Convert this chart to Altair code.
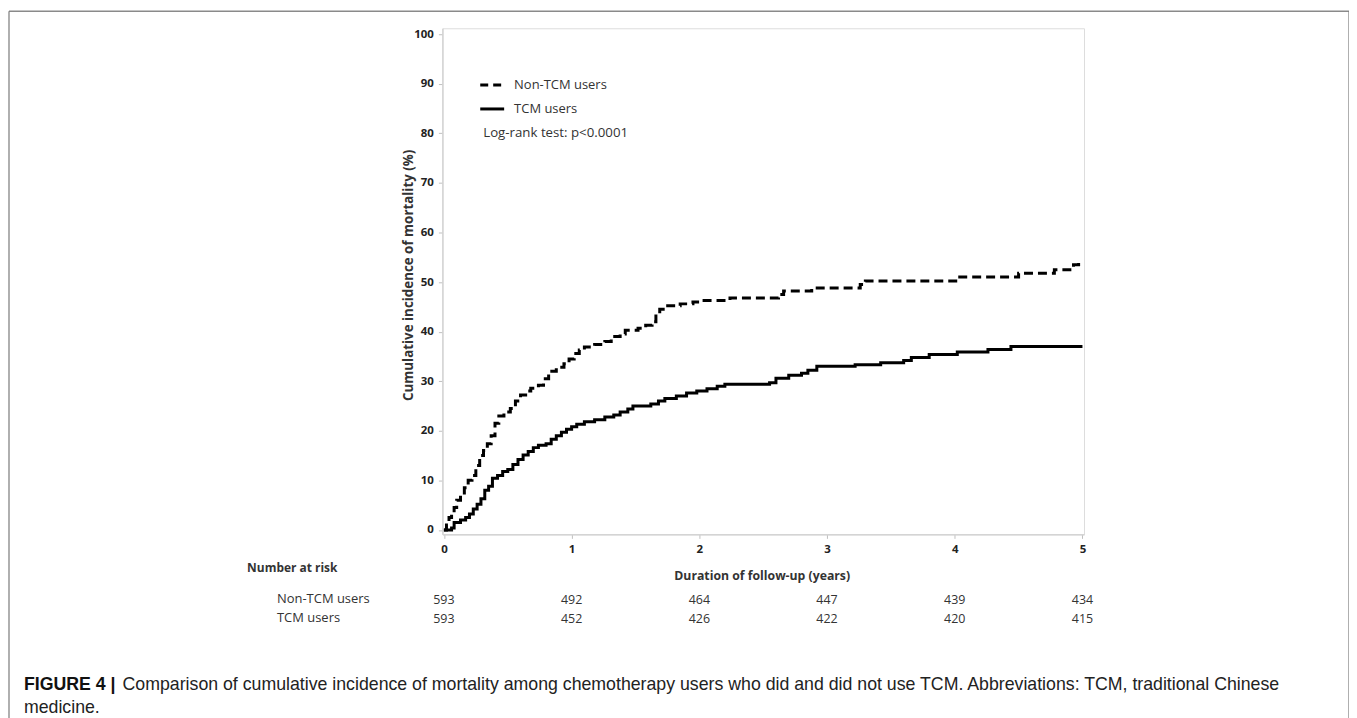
import altair as alt
import pandas as pd

# --- data ---
non_tcm_t = [0, 0.02, 0.04, 0.06, 0.08, 0.10, 0.13, 0.16, 0.19, 0.22, 0.25, 0.28, 0.31, 0.34, 0.37,
             0.40, 0.43, 0.47, 0.52, 0.56, 0.60, 0.64, 0.68, 0.74, 0.78, 0.82, 0.88, 0.94, 0.98,
             1.02, 1.06, 1.10, 1.18, 1.26, 1.31, 1.38, 1.42, 1.52, 1.58, 1.63, 1.66, 1.69, 1.74,
             1.85, 1.95, 2.02, 2.24, 2.62, 2.66, 2.88, 3.26, 3.30, 4.02, 4.50, 4.78, 4.93, 4.97]
non_tcm_v = [0, 1.0, 2.5, 3.5, 4.5, 6.0, 7.0, 8.5, 10.0, 11.0, 13.0, 15.0, 16.0, 17.4, 19.0,
             21.5, 23.0, 23.8, 24.5, 26.0, 27.2, 28.0, 28.6, 29.2, 30.5, 32.0, 32.8, 33.5, 34.5,
             35.6, 36.3, 36.9, 37.4, 38.0, 39.0, 39.5, 40.3, 40.7, 41.3, 42.0, 43.5, 44.5, 45.2,
             45.6, 46.0, 46.3, 46.8, 47.5, 48.2, 48.8, 49.5, 50.2, 51.0, 51.8, 52.5, 53.5, 54.3]

tcm_t = [0, 0.06, 0.08, 0.13, 0.17, 0.20, 0.23, 0.26, 0.29, 0.32, 0.35, 0.38, 0.42, 0.46, 0.50,
         0.54, 0.58, 0.62, 0.66, 0.70, 0.74, 0.80, 0.84, 0.88, 0.92, 0.96, 1.00, 1.04, 1.10,
         1.18, 1.26, 1.33, 1.38, 1.44, 1.48, 1.62, 1.68, 1.73, 1.82, 1.90, 1.98, 2.06, 2.14,
         2.20, 2.55, 2.60, 2.70, 2.80, 2.85, 2.92, 3.22, 3.42, 3.60, 3.66, 3.80, 4.02, 4.26,
         4.44, 5.00]
tcm_v = [0, 0.4, 1.5, 2.0, 2.5, 3.2, 4.2, 5.2, 6.3, 8.0, 8.8, 10.4, 11.0, 11.8, 12.2,
         13.2, 14.2, 15.1, 15.8, 16.6, 17.1, 17.4, 18.3, 19.0, 19.7, 20.3, 20.8, 21.3, 21.8,
         22.2, 22.8, 23.2, 23.8, 24.4, 25.0, 25.4, 26.0, 26.5, 27.0, 27.6, 28.0, 28.5, 29.0,
         29.4, 29.7, 30.6, 31.2, 31.6, 32.2, 33.0, 33.3, 33.7, 34.2, 34.8, 35.4, 35.9, 36.4,
         37.0, 37.0]

risk_years = [0, 1, 2, 3, 4, 5]
risk_non_tcm = [593, 492, 464, 447, 439, 434]
risk_tcm = [593, 452, 426, 422, 420, 415]

x_ticks = [0, 1, 2, 3, 4, 5]
y_ticks = [0, 10, 20, 30, 40, 50, 60, 70, 80, 90, 100]

legend_labels = ["Non-TCM users", "TCM users"]
logrank_text = "Log-rank test: p<0.0001"
y_title = "Cumulative incidence of mortality (%)"
x_title = "Duration of follow-up (years)"
caption_bold = "FIGURE 4 |"
caption_line1 = ("Comparison of cumulative incidence of mortality among chemotherapy users who did "
                 "and did not use TCM. Abbreviations: TCM, traditional Chinese")
caption_line2 = "medicine."

W, H = 644, 508
FONT = "Open Sans"
CAP_FONT = "Liberation Sans"
TXT = "#333333"

xscale = alt.Scale(domain=[-0.012, 5.012], nice=False, zero=False)
yscale = alt.Scale(domain=[-0.9, 101.2], nice=False, zero=False)

df_non = pd.DataFrame({"t": non_tcm_t, "v": non_tcm_v})
df_tcm = pd.DataFrame({"t": tcm_t, "v": tcm_v})

xax = alt.Axis(values=x_ticks, format="d", title=None, grid=False,
               labelFont=FONT, labelFontWeight="bold", labelFontSize=11.5, labelColor="#222222",
               domainColor="#d4d4d4", domainWidth=1.5, tickColor="#c0c0c0", tickSize=4,
               labelPadding=5)
yax = alt.Axis(values=y_ticks, format="d", title=None, grid=False,
               labelFont=FONT, labelFontWeight="bold", labelFontSize=11.5, labelColor="#222222",
               domainColor="#d4d4d4", domainWidth=1.5, tickColor="#c0c0c0", tickSize=4,
               labelPadding=5)

line_non = alt.Chart(df_non).mark_line(interpolate="step-after", color="black",
                                       strokeWidth=3, strokeDash=[9, 5]).encode(
    x=alt.X("t:Q", scale=xscale, axis=xax),
    y=alt.Y("v:Q", scale=yscale, axis=yax),
)
line_tcm = alt.Chart(df_tcm).mark_line(interpolate="step-after", color="black",
                                       strokeWidth=3).encode(
    x=alt.X("t:Q", scale=xscale, axis=xax),
    y=alt.Y("v:Q", scale=yscale, axis=yax),
)

one = pd.DataFrame({"a": [0]})

# legend samples
leg_dash = alt.Chart(one).mark_rule(color="black", strokeWidth=3, strokeDash=[8, 5]).encode(
    x=alt.value(38), x2=alt.value(62), y=alt.value(57))
leg_solid = alt.Chart(one).mark_rule(color="black", strokeWidth=3).encode(
    x=alt.value(38), x2=alt.value(62), y=alt.value(81))
leg_text = alt.Chart(pd.DataFrame({"label": legend_labels, "py": [57, 81]})).mark_text(
    align="left", baseline="middle", font=FONT, fontSize=13, color=TXT).encode(
    x=alt.value(72), y=alt.Y("py:Q", scale=None), text="label:N")
logrank = alt.Chart(one).mark_text(align="left", baseline="middle", font=FONT, fontSize=13.3,
                                   color=TXT).encode(
    x=alt.value(41), y=alt.value(105), text=alt.value(logrank_text))

# axis titles
ytitle = alt.Chart(one).mark_text(angle=270, align="center", baseline="middle", font=FONT,
                                  fontSize=13.4, fontWeight="bold", color=TXT).encode(
    x=alt.value(-33), y=alt.value(248), text=alt.value(y_title))
xtitle = alt.Chart(one).mark_text(align="center", baseline="middle", font=FONT,
                                  fontSize=12.3, fontWeight="bold", color=TXT).encode(
    x=alt.value(321), y=alt.value(550), text=alt.value(x_title))

# number at risk table
nar_title = alt.Chart(one).mark_text(align="left", baseline="middle", font=FONT, fontSize=12,
                                     fontWeight="bold", color=TXT).encode(
    x=alt.value(-196), y=alt.value(542), text=alt.value("Number at risk"))
nar_rows = alt.Chart(pd.DataFrame({"label": legend_labels, "py": [573, 592]})).mark_text(
    align="left", baseline="middle", font=FONT, fontSize=13, color=TXT).encode(
    x=alt.value(-166), y=alt.Y("py:Q", scale=None), text="label:N")
df_risk = pd.DataFrame({
    "t": risk_years * 2,
    "n": risk_non_tcm + risk_tcm,
    "py": [574] * 6 + [593] * 6,
})
nar_nums = alt.Chart(df_risk).mark_text(align="center", baseline="middle", font=FONT,
                                        fontSize=12.5, color=TXT).encode(
    x=alt.X("t:Q", scale=xscale, axis=xax), y=alt.Y("py:Q", scale=None), text="n:Q")

# caption
cap_b = alt.Chart(one).mark_text(align="left", baseline="middle", font=CAP_FONT, fontSize=17.8,
                                 fontWeight="bold", color="#111111").encode(
    x=alt.value(-420), y=alt.value(659), text=alt.value(caption_bold))
cap_1 = alt.Chart(one).mark_text(align="left", baseline="middle", font=CAP_FONT, fontSize=17.8,
                                 color="#222222").encode(
    x=alt.value(-321), y=alt.value(659), text=alt.value(caption_line1))
cap_2 = alt.Chart(one).mark_text(align="left", baseline="middle", font=CAP_FONT, fontSize=17.8,
                                 color="#222222").encode(
    x=alt.value(-420), y=alt.value(682), text=alt.value(caption_line2))

# outer frame
fr_top = alt.Chart(one).mark_rule(color="#8a8a8a", strokeWidth=1.5).encode(
    x=alt.value(-435), x2=alt.value(910), y=alt.value(-17))
fr_left = alt.Chart(one).mark_rule(color="#7a7a7a", strokeWidth=1.2).encode(
    x=alt.value(-435), y=alt.value(-17), y2=alt.value(720))
fr_right = alt.Chart(one).mark_rule(color="#7a7a7a", strokeWidth=1.2).encode(
    x=alt.value(910), y=alt.value(-17), y2=alt.value(720))

chart = alt.layer(
    fr_top, fr_left, fr_right,
    line_non, line_tcm,
    leg_dash, leg_solid, leg_text, logrank,
    ytitle, xtitle,
    nar_title, nar_rows, nar_nums,
    cap_b, cap_1, cap_2,
).properties(
    width=W, height=H,
    autosize=alt.AutoSizeParams(type="none"),
    padding={"left": 436, "top": 19, "right": 266, "bottom": 190},
).configure_view(
    stroke="#d4d4d4", strokeWidth=1.5
).configure(background="white")

chart.save("out.html", embed_options={"renderer": "svg", "actions": False})
